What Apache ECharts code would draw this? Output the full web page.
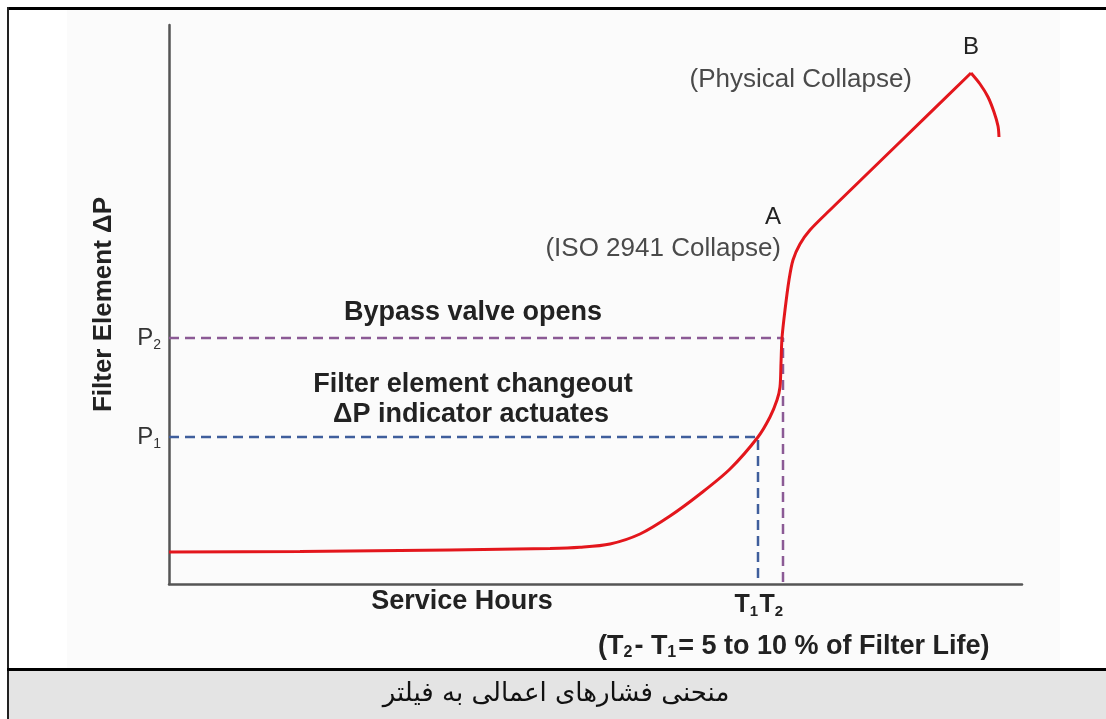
<!DOCTYPE html>
<html><head><meta charset="utf-8">
<script src="https://cdn.jsdelivr.net/npm/echarts@6/dist/echarts.min.js"></script>
<style>html,body{margin:0;padding:0;background:#fff}#c{width:1106px;height:719px}</style>
</head><body><div id="c"></div>
<script>
// Values, in pixel offsets from the axes origin (x to the right, y upward)
const axisLengthX = 853;
const axisLengthY = 559;
const curveX = [0, 131, 281, 381, 411, 441, 471, 501, 531, 561, 589, 601, 608, 611, 612, 613, 616, 620, 624, 631, 641, 661, 731, 802];
const curveY = [32, 32.5, 34, 35.5, 36.7, 40, 50, 68, 90, 115, 147, 167, 184, 197, 221, 246, 274, 304, 324, 340, 354, 374, 442, 511];
const collapseX = [802, 811, 819, 825, 829, 830];
const collapseY = [511, 500, 487, 472, 458, 447];
const P1 = 147, P2 = 246, T1 = 589, T2 = 614;
const yTickValues = [P1, P2];
const yTickLabels = ['1', '2'];
const xTickValues = [T1, T2];
const xTickLabels = ['1', '2'];

const pts = (xs, ys) => xs.map((x, i) => [x, ys[i]]);
const chart = echarts.init(document.getElementById('c'), null, {renderer: 'canvas'});
const FONT = '"Liberation Sans", Arial, Helvetica, sans-serif';
const dash = [10, 6];

chart.setOption({
  animation: false,
  backgroundColor: '#ffffff',
  grid: {left: 169, top: 25, width: axisLengthX, height: axisLengthY, containLabel: false},
  xAxis: {
    type: 'value', min: 0, max: axisLengthX,
    splitLine: {show: false}, axisTick: {show: false},
    axisLine: {lineStyle: {color: '#555', width: 2.5}},
    axisLabel: {
      customValues: xTickValues, margin: 8, align: 'right',
      formatter: v => '{t|T}{s|' + xTickLabels[xTickValues.indexOf(v)] + '}',
      rich: {
        t: {fontFamily: FONT, fontSize: 25, fontWeight: 'bold', color: '#222'},
        s: {fontFamily: FONT, fontSize: 15, fontWeight: 'bold', color: '#222', verticalAlign: 'bottom', padding: [12, 0, 0, 0]}
      }
    }
  },
  yAxis: {
    type: 'value', min: 0, max: axisLengthY,
    name: 'Filter Element ΔP', nameLocation: 'middle', nameGap: 52, nameRotate: 90,
    nameTextStyle: {fontFamily: FONT, fontSize: 26, fontWeight: 'bold', color: '#222'},
    splitLine: {show: false}, axisTick: {show: false},
    axisLine: {lineStyle: {color: '#555', width: 2.5}},
    axisLabel: {
      customValues: yTickValues, margin: 8,
      formatter: v => '{p|P}{s|' + yTickLabels[yTickValues.indexOf(v)] + '}',
      rich: {
        p: {fontFamily: FONT, fontSize: 24, color: '#333'},
        s: {fontFamily: FONT, fontSize: 14, color: '#333', padding: [14, 0, 0, 0]}
      }
    }
  },
  series: [
    {type: 'line', data: [[0, P1], [T1, P1], [T1, 0]], symbol: 'none', z: 2,
     lineStyle: {color: '#3f5e9c', width: 2.5, type: dash}},
    {type: 'line', data: [[0, P2], [T2, P2], [T2, 0]], symbol: 'none', z: 2,
     lineStyle: {color: '#8b5a95', width: 2.5, type: dash}},
    {type: 'line', data: pts(curveX, curveY), symbol: 'none', smooth: 0.3, z: 5,
     lineStyle: {color: '#e3161c', width: 3}},
    {type: 'line', data: pts(collapseX, collapseY), symbol: 'none', smooth: 0.3, z: 5,
     lineStyle: {color: '#e3161c', width: 3}}
  ],
  graphic: [
    {type: 'rect', shape: {x: 67, y: 10, width: 993, height: 659}, style: {fill: '#fbfbfb'}, z: -10, silent: true},
    {type: 'rect', shape: {x: 9, y: 670, width: 1097, height: 49}, style: {fill: '#e4e4e4'}, z: -10},
    {type: 'rect', shape: {x: 7, y: 7, width: 1099, height: 3}, style: {fill: '#000'}, z: 10},
    {type: 'rect', shape: {x: 7, y: 7, width: 2, height: 712}, style: {fill: '#222'}, z: 10},
    {type: 'rect', shape: {x: 7, y: 668, width: 1099, height: 3}, style: {fill: '#000'}, z: 10},
    {type: 'text', x: 473, y: 313, style: {text: 'Bypass valve opens', font: 'bold 27px ' + FONT, fill: '#222', textAlign: 'center', textVerticalAlign: 'middle'}},
    {type: 'text', x: 473, y: 385, style: {text: 'Filter element changeout', font: 'bold 27px ' + FONT, fill: '#222', textAlign: 'center', textVerticalAlign: 'middle'}},
    {type: 'text', x: 471, y: 415, style: {text: 'ΔP indicator actuates', font: 'bold 27px ' + FONT, fill: '#222', textAlign: 'center', textVerticalAlign: 'middle'}},
    {type: 'text', x: 773, y: 217, style: {text: 'A', font: '24px ' + FONT, fill: '#222', textAlign: 'center', textVerticalAlign: 'middle'}},
    {type: 'text', x: 781, y: 249, style: {text: '(ISO 2941 Collapse)', font: '26px ' + FONT, fill: '#4a4a4a', textAlign: 'right', textVerticalAlign: 'middle'}},
    {type: 'text', x: 971, y: 47, style: {text: 'B', font: '24px ' + FONT, fill: '#222', textAlign: 'center', textVerticalAlign: 'middle'}},
    {type: 'text', x: 912, y: 80, style: {text: '(Physical Collapse)', font: '26px ' + FONT, fill: '#4a4a4a', textAlign: 'right', textVerticalAlign: 'middle'}},
    {type: 'text', x: 462, y: 602, style: {text: 'Service Hours', font: 'bold 27px ' + FONT, fill: '#222', textAlign: 'center', textVerticalAlign: 'middle'}},
    {type: 'text', x: 598, y: 647, style: {
      text: '{t|(T}{s|2}{t|- T}{s|1}{t|= 5 to 10 % of Filter Life)}', textVerticalAlign: 'middle',
      rich: {
        t: {fontFamily: FONT, fontSize: 27, fontWeight: 'bold', fill: '#222'},
        s: {fontFamily: FONT, fontSize: 16, fontWeight: 'bold', fill: '#222', padding: [12, 2, 0, 0]}
      }}},
    {type: 'text', x: 556, y: 694, style: {text: 'منحنی فشارهای اعمالی به فیلتر', font: '26px "DejaVu Sans", "Noto Sans", sans-serif', fill: '#111', textAlign: 'center', textVerticalAlign: 'middle'}}
  ]
});
</script>
</body></html>
